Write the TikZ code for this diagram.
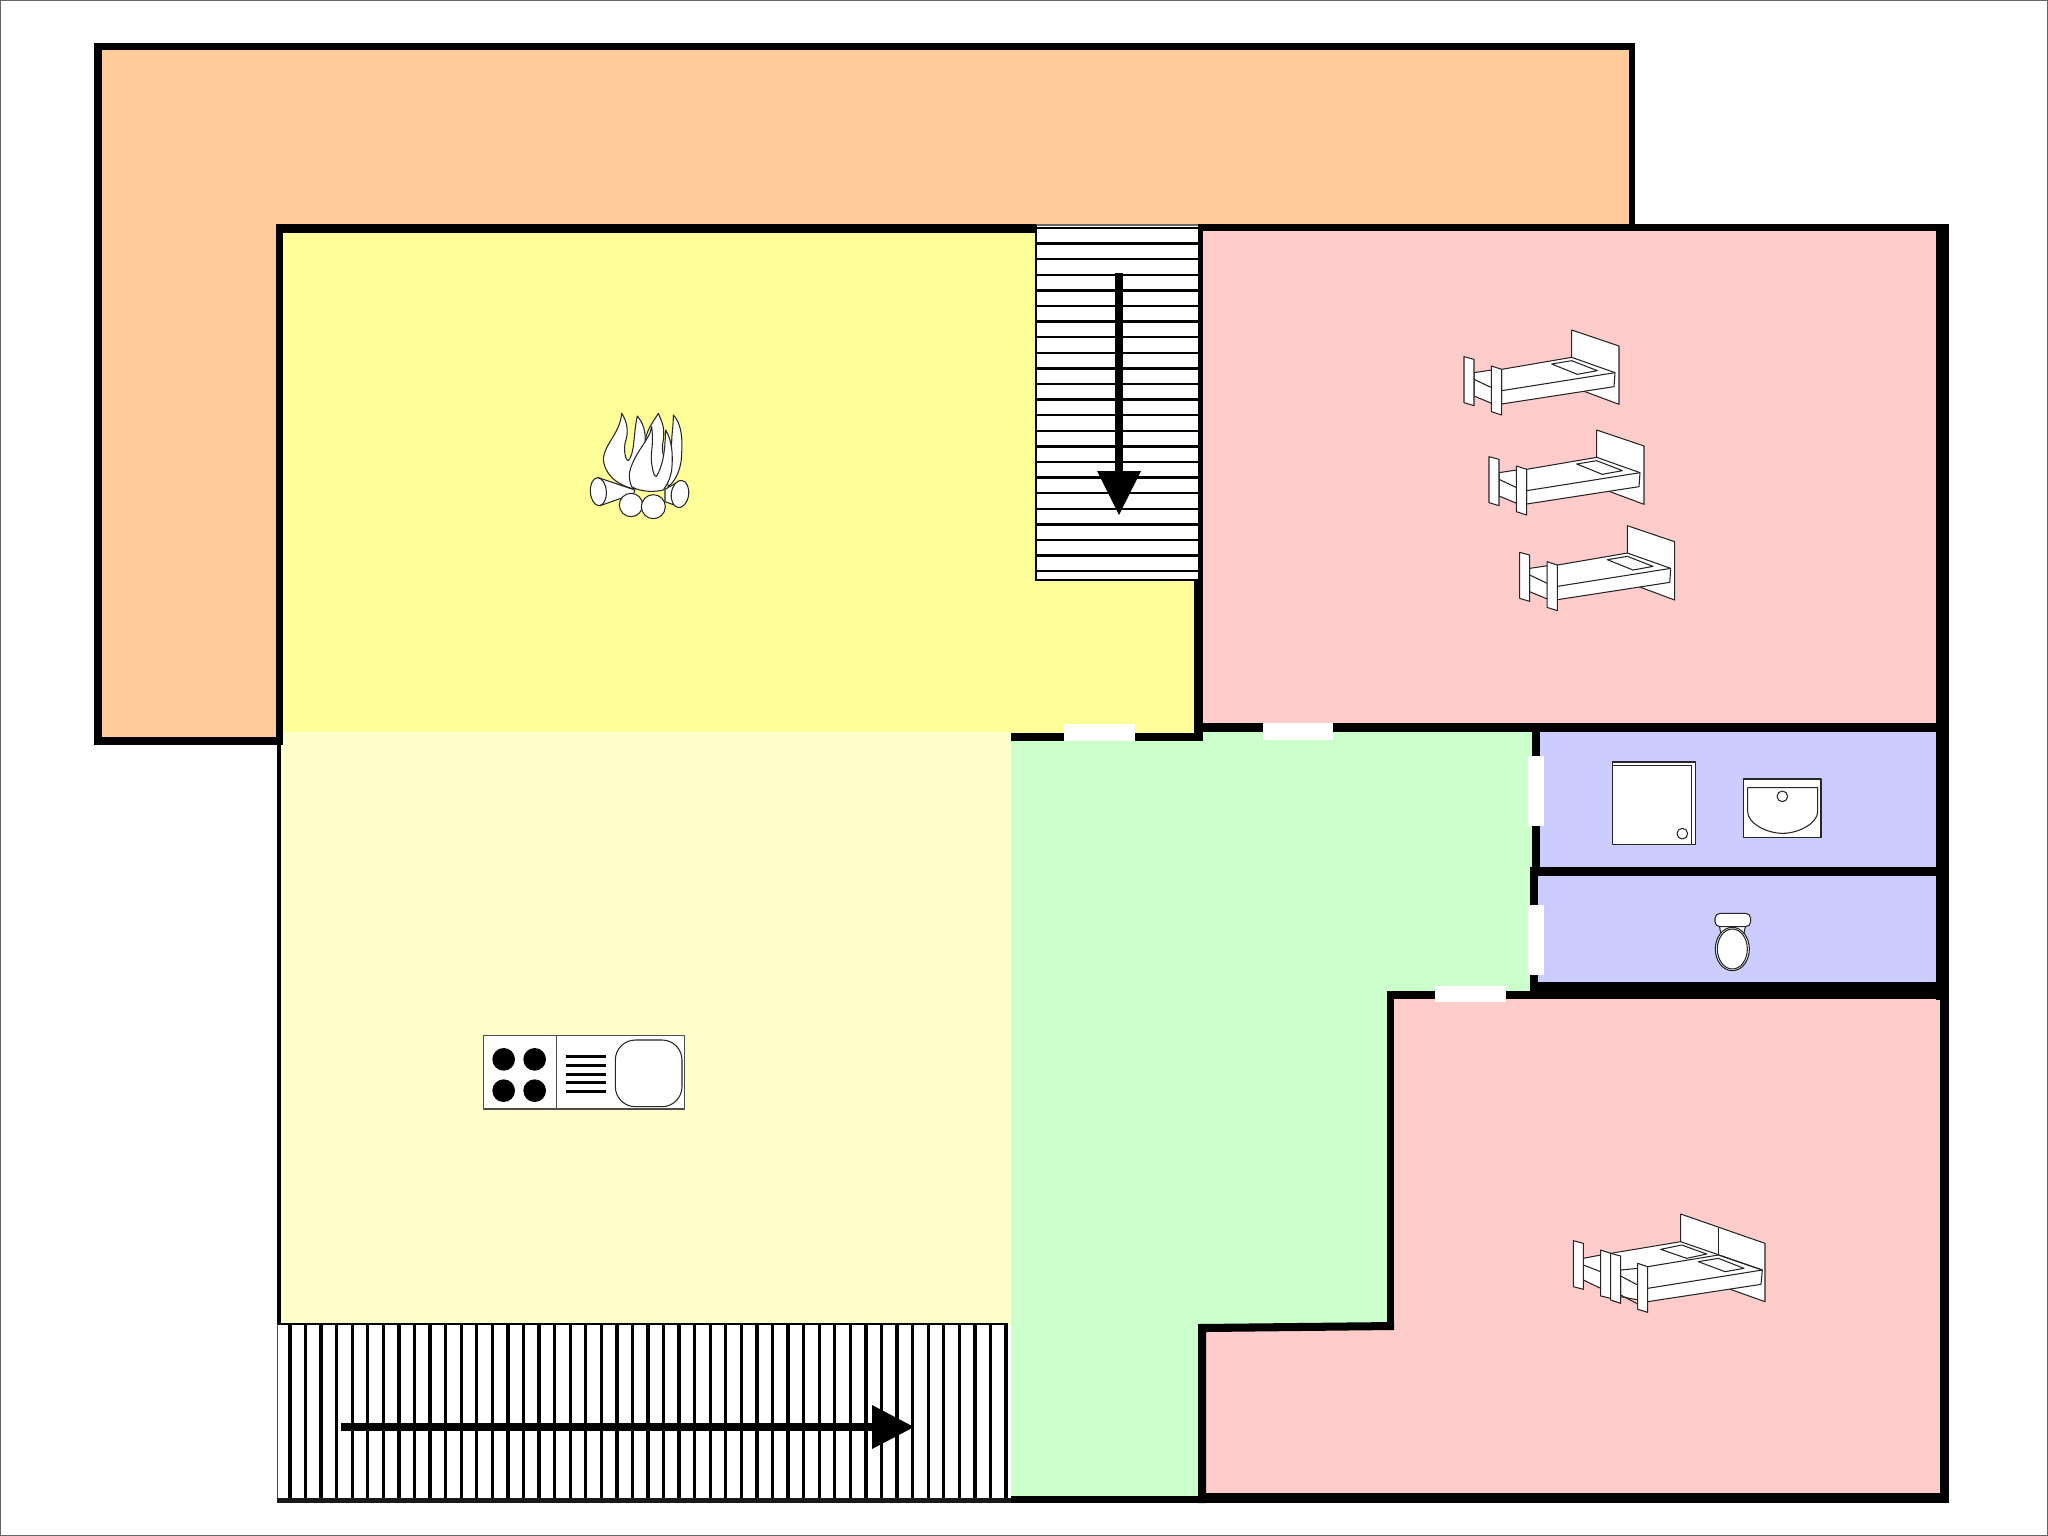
\documentclass[tikz,border=0pt]{standalone}
\definecolor{orangeroom}{HTML}{FFCC99}
\definecolor{yellowroom}{HTML}{FFFF99}
\definecolor{paleroom}{HTML}{FFFFCC}
\definecolor{greenroom}{HTML}{CCFFCC}
\definecolor{pinkroom}{HTML}{FFCCCC}
\definecolor{blueroom}{HTML}{CCCCFF}
\tikzset{
  wallfill/.style={fill=black,draw=none},
  doorfill/.style={fill=white,draw=none},
  fixture/.style={fill=white,draw=black!85,line width=0.3pt,line join=round},
  fixline/.style={draw=black!85,line width=0.3pt},
  stairline/.style={draw=black,line width=0.65pt},
  zoomed/.style={scale=1/3}
}
\newcommand{\wallrect}[4]{\fill[wallfill] (#1,#2) rectangle (#3,#4);}
\newcommand{\doorrect}[4]{\fill[doorfill] (#1,#2) rectangle (#3,#4);}
\newcommand{\bedshape}{%
  \draw[fixture] (395,30) -- (537,78) -- (537,253) -- (395,200) -- cycle;
  \draw[fixture] (102,158) -- (155,150) -- (155,250) -- (102,228) -- cycle;
  \draw[fixline] (102,178) -- (155,203);
  \draw[fixture] (185,148) -- (395,112) -- (525,158) -- (522,200) -- (185,252) -- cycle;
  \draw[fixline] (185,212) -- (525,158);
  \draw[fixture] (335,132) -- (395,122) -- (472,152) -- (412,163) -- cycle;
  \draw[fixture] (72,110) -- (102,118) -- (102,257) -- (72,248) -- cycle;
  \draw[fixture] (154,138) -- (185,148) -- (185,285) -- (154,275) -- cycle;
}
\begin{document}
\begin{tikzpicture}[x=0.01cm,y=-0.01cm]
\useasboundingbox (0,0) rectangle (2048,1536);
\fill[white] (0,0) rectangle (2048,1536);
\draw[draw=black!60,line width=0.4pt] (0.7,0.7) rectangle (2047.3,1535.3);

% room fills
\fill[orangeroom] (98,47) -- (1632,47) -- (1632,228) -- (279,228) -- (279,741) -- (98,741) -- cycle;
\fill[yellowroom] (283,233) rectangle (1196,733);
\fill[paleroom] (280,732) rectangle (1011,1326);
\fill[greenroom] (1011,733) -- (1203,733) -- (1203,728) -- (1534,728) -- (1534,992) -- (1390,992) -- (1390,1326) -- (1200,1328) -- (1200,1498) -- (1011,1498) -- cycle;
\fill[pinkroom] (1203,229) rectangle (1938,724);
\fill[blueroom] (1538,732) rectangle (1938,868);
\fill[blueroom] (1536,870) rectangle (1940,984);
\fill[pinkroom] (1392,996) -- (1942,996) -- (1942,1496) -- (1204,1496) -- (1204,1330) -- (1392,1328) -- cycle;

% walls
\wallrect{94}{43}{1635}{50}
\wallrect{94}{43}{102}{745}
\wallrect{1629}{43}{1635}{228}
\wallrect{94}{737}{283}{745}
\wallrect{276}{224}{283}{745}
\wallrect{277}{732}{281}{1503}
\wallrect{276}{224}{1036}{233}
\wallrect{1198}{224}{1949}{231}
\wallrect{1194}{570}{1203}{741}
\wallrect{1198}{224}{1203}{741}
\wallrect{1011}{733}{1203}{741}
\wallrect{1203}{723}{1949}{732}
\wallrect{1936}{224}{1949}{1000}
\wallrect{1940}{985}{1949}{1503}
\wallrect{1532}{724}{1540}{870}
\wallrect{1530}{867}{1538}{991}
\wallrect{1530}{867}{1946}{876}
\wallrect{1530}{982}{1946}{991}
\wallrect{1387}{991}{1946}{999}
\wallrect{1387}{991}{1394}{1330}
\fill[wallfill] (1198,1324) -- (1394,1322) -- (1394,1330) -- (1206,1332) -- (1206,1503) -- (1198,1503) -- cycle;
\wallrect{1206}{1493}{1949}{1503}
\wallrect{1011}{1496}{1206}{1503}

% doors
\doorrect{1064}{724}{1135}{741}
\doorrect{1263}{723}{1333}{740}
\doorrect{1528}{756}{1544}{826}
\doorrect{1528}{905}{1544}{975}
\doorrect{1435}{986}{1506}{1002}

% upper stairs
\fill[white] (1036,225) rectangle (1198,580);
\foreach \k in {0,...,22} {\draw[stairline] (1036,228+15.6*\k) -- (1198,228+15.6*\k);}
\draw[black!60,line width=0.3pt] (1036,225) -- (1198,225);
\draw[stairline] (1036,225) -- (1036,580) -- (1198,580);
\fill[black] (1115,273) rectangle (1123,480);
\fill[black] (1097,471) -- (1141,471) -- (1119,515) -- cycle;

% lower stairs
\fill[white] (277,1324) rectangle (1008,1498);
\foreach \k in {0,...,46} {\draw[draw=black,line width=0.95pt] (290+15.565*\k,1324) -- (290+15.565*\k,1498);}
\draw[draw=black,line width=0.3pt] (277,1324) -- (1008,1324);
\draw[draw=black!70,line width=0.5pt] (277.5,1324) -- (277.5,1498);
\fill[black!90] (277,1498) rectangle (1011,1503);
\fill[black] (341,1423) rectangle (880,1431);
\fill[black] (872,1405) -- (914,1427) -- (872,1449) -- cycle;

% fire
\begin{scope}[shift={(570,390)},zoomed]
  \draw[fixture] (85,263) -- (195,300) -- (190,312) -- (90,347) -- cycle;
  \draw[fixture,rotate around={4:(85,305)}] (85,305) ellipse [x radius=24,y radius=42];
  \draw[fixture] (285,298) -- (330,272) -- (332,352) -- (285,335) -- cycle;
  \draw[fixture,rotate around={-8:(330,312)}] (330,312) ellipse [x radius=26,y radius=41];
  \draw[fixture] (183,345) circle [radius=35];
  \draw[fixture] (250,350) circle [radius=36];
  \draw[fixture] (225,160) .. controls (230,120) and (240,110) .. (265,70) .. controls (275,95) and (285,110) .. (280,150) .. controls (270,190) and (290,220) .. (295,240) -- (250,270) -- cycle;
  \draw[fixture] (295,290) .. controls (320,270) and (335,230) .. (335,190) .. controls (338,150) and (335,100) .. (310,75) .. controls (310,110) and (305,130) .. (305,160) -- (285,240) -- cycle;
  \draw[fixture] (195,297) .. controls (130,285) and (100,240) .. (100,205) .. controls (105,160) and (150,130) .. (155,70) .. controls (175,100) and (175,130) .. (165,160) .. controls (160,190) and (170,215) .. (175,212) .. controls (195,190) and (190,130) .. (202,78) .. controls (220,100) and (228,125) .. (225,160) .. controls (222,185) and (200,210) .. (190,240) -- cycle;
  \draw[fixture] (178,250) .. controls (190,190) and (240,150) .. (245,110) .. controls (252,170) and (240,190) .. (245,220) .. controls (250,260) and (258,265) .. (262,255) .. controls (285,210) and (285,160) .. (287,120) .. controls (305,150) and (310,190) .. (305,240) .. controls (300,270) and (290,285) .. (280,300) .. controls (240,310) and (200,300) .. (185,290) .. controls (178,275) and (178,260) .. (178,250) -- cycle;
\end{scope}

% single beds
\begin{scope}[shift={(1440,320)},zoomed]\bedshape\end{scope}
\begin{scope}[shift={(1465,420)},zoomed]\bedshape\end{scope}
\begin{scope}[shift={(1495.7,515.7)},zoomed]\bedshape\end{scope}

% double bed
\begin{scope}[shift={(1550,1190)},zoomed]
  \draw[fixture] (392,72) -- (645,160) -- (645,335) -- (392,245) -- cycle;
  \draw[fixline] (505,113) -- (505,205);
  \draw[fixture] (100,205) -- (152,195) -- (152,295) -- (100,270) -- cycle;
  \draw[fixline] (100,225) -- (152,245);
  \draw[fixture] (182,190) -- (392,155) -- (637,240) -- (633,283) -- (293,335) -- (212,320) -- (212,240) -- (182,245) -- cycle;
  \draw[fixline] (212,240) -- (263,235);
  \draw[fixline] (212,258) -- (263,285);
  \draw[fixline] (212,315) -- (263,342);
  \draw[fixline] (293,230) -- (505,195) -- (637,240);
  \draw[fixline] (293,295) -- (637,240);
  \draw[fixture] (332,178) -- (395,165) -- (470,192) -- (410,205) -- cycle;
  \draw[fixture] (445,215) -- (505,205) -- (582,235) -- (525,245) -- cycle;
  \draw[fixture] (70,152) -- (100,160) -- (100,298) -- (70,290) -- cycle;
  \draw[fixture] (152,180) -- (182,190) -- (182,325) -- (152,318) -- cycle;
  \draw[fixture] (182,190) -- (212,198) -- (212,340) -- (182,330) -- cycle;
  \draw[fixture] (263,220) -- (293,230) -- (293,367) -- (263,358) -- cycle;
\end{scope}

% bathroom fixtures
\begin{scope}[shift={(1560,740)},zoomed]
  \draw[fixture] (158,66) rectangle (406,313);
  \draw[fixline] (158,76) -- (395,76) -- (395,313);
  \draw[fixture] (367,281) circle [radius=16];
  \draw[fixture] (550,117) rectangle (783,292);
  \draw[fixture] (563,143) -- (773,143) -- (773,215) .. controls (773,250) and (715,280) .. (668,280) .. controls (620,280) and (563,250) .. (563,215) -- cycle;
  \draw[fixture] (667,169) circle [radius=16];
  \draw[fixture] (478,555) -- (482,580) -- (552,580) -- (557,555) -- cycle;
  \draw[fixture] (517,627) ellipse [x radius=51,y radius=65];
  \draw[fixture] (517,627) ellipse [x radius=45,y radius=60];
  \draw[fixture,rounded corners=0.05cm] (465,520) rectangle (572,560);
\end{scope}

% kitchen
\begin{scope}[shift={(470,1020)},zoomed]
  \draw[fixture,draw=black!70] (40,47) rectangle (644,267);
  \draw[fixline,draw=black!70] (260,47) -- (260,267);
  \foreach \cx/\cy in {101/118,194/118,101/212,194/212} {\fill[black] (\cx,\cy) circle [radius=34];}
  \foreach \ly in {110,136,162,188,214} {\draw[black,line width=0.85pt] (288,\ly) -- (408,\ly);}
  \draw[fixture,rounded corners=0.2cm] (436,60) rectangle (636,260);
\end{scope}
\end{tikzpicture}
\end{document}
